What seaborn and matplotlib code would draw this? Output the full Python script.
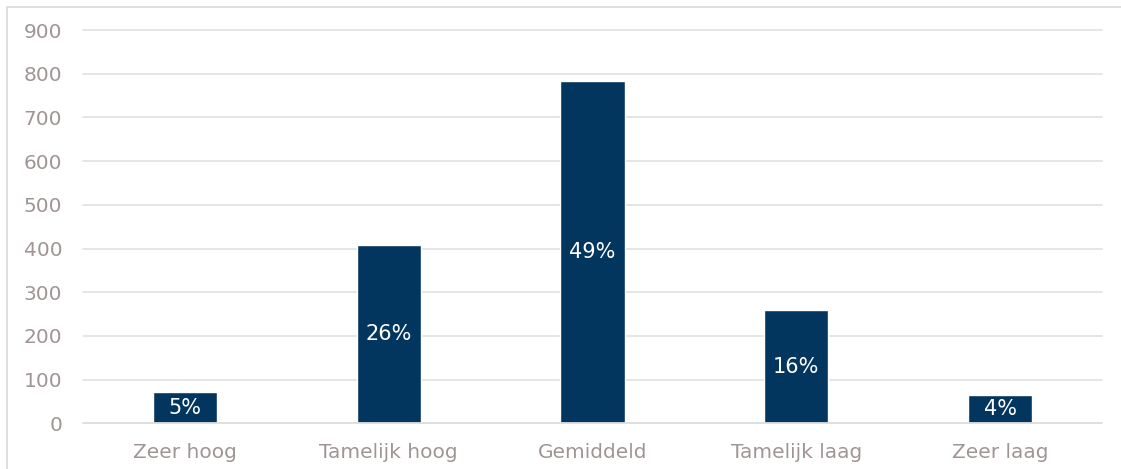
import matplotlib
matplotlib.use("Agg")
import matplotlib.pyplot as plt
import seaborn as sns
import pandas as pd
from matplotlib.patches import Rectangle

categories = ["Zeer hoog", "Tamelijk hoog", "Gemiddeld", "Tamelijk laag", "Zeer laag"]
values = [72, 407, 783, 259, 65]
pct_labels = ["5%", "26%", "49%", "16%", "4%"]
yticks = [0, 100, 200, 300, 400, 500, 600, 700, 800, 900]

sns.set_theme(style="white")
plt.rcParams["font.family"] = ["DejaVu Sans"]

df = pd.DataFrame({"cat": categories, "val": values})

fig = plt.figure(figsize=(11.21, 4.69), dpi=100)
ax = fig.add_axes([83 / 1121, 1 - 423.3 / 469, (1102 - 83) / 1121, (423.3 - 30) / 469])

sns.barplot(data=df, x="cat", y="val", color="#03365F", width=0.315, ax=ax,
            saturation=1, zorder=3)

ax.set_ylim(0, 900)
ax.set_yticks(yticks)
ax.set_yticklabels([str(t) for t in yticks])
ax.set_xlim(-0.5, len(categories) - 0.5)
ax.set_xlabel("")
ax.set_ylabel("")
ax.yaxis.grid(False)
ax.xaxis.grid(False)
for t in yticks[1:]:
    ax.axhline(t, color="#E3E3E3", linewidth=1.3, zorder=0, clip_on=False)
for s in ax.spines.values():
    s.set_visible(False)
ax.axhline(0, color="#DCDCDC", linewidth=1.3, zorder=4, clip_on=False)
ax.tick_params(axis="y", length=0, pad=15, labelsize=14.5, labelcolor="#A09595")
ax.tick_params(axis="x", length=0, pad=14, labelsize=14.5, labelcolor="#A09595")

for i, (v, lab) in enumerate(zip(values, pct_labels)):
    ax.text(i, v / 2, lab, ha="center", va="center", color="white", fontsize=15, zorder=5)

# outer chart border
fig.patches.append(Rectangle((6.5 / 1121, -0.1), 1.2, 1 - 7 / 469 + 0.1,
                             transform=fig.transFigure, fill=False,
                             edgecolor="#D9D9D9", linewidth=1.2))

fig.savefig("out.png", dpi=100)
